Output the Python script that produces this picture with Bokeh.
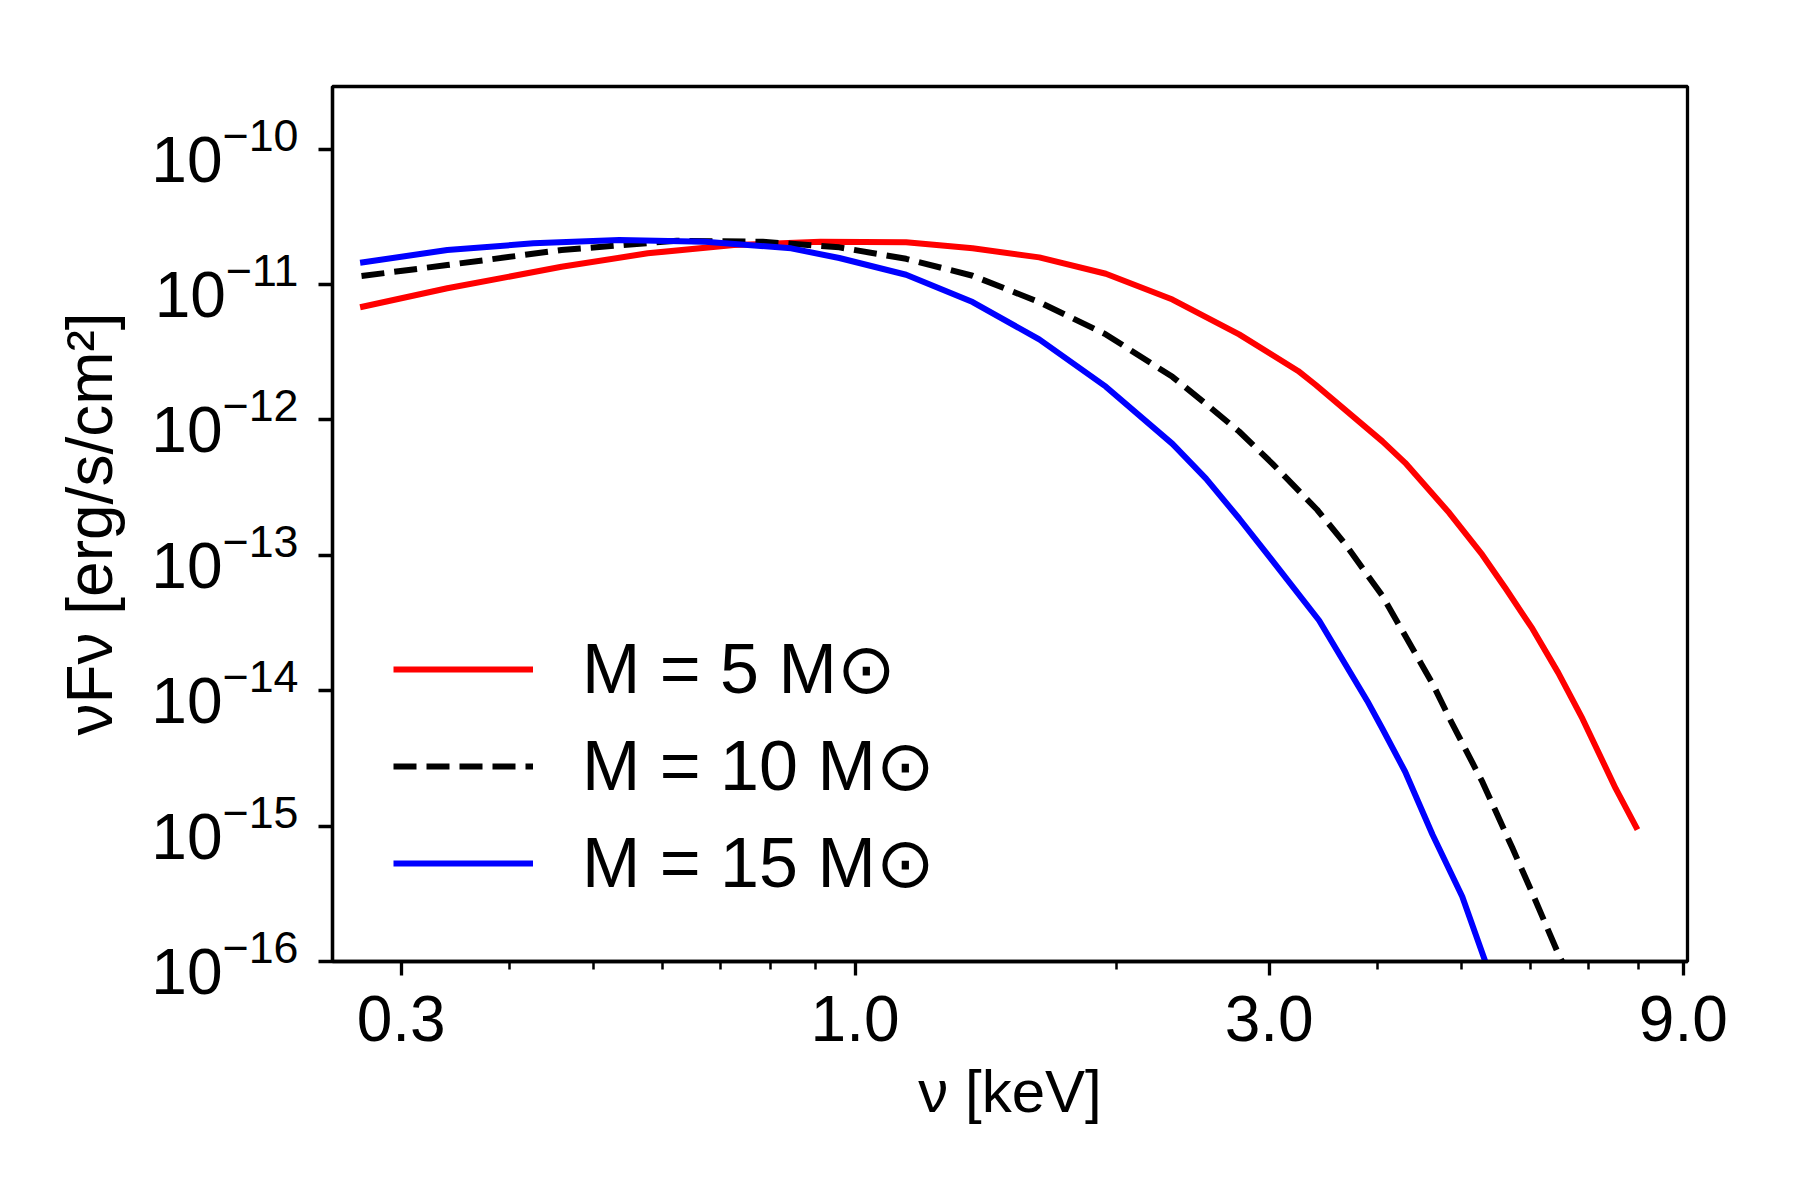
from bokeh.plotting import figure
from bokeh.models import (Range1d, FixedTicker, PrintfTickFormatter, LogTickFormatter,
                          Legend, LegendItem)
from bokeh.embed import file_html
from bokeh.resources import INLINE

# ---- data ----
energy_m5 = [0.269, 0.339, 0.459, 0.577, 0.725, 0.912, 1.145, 1.366, 1.630, 1.945,
             2.321, 2.770, 3.239, 3.395, 4.051, 4.303, 4.836, 5.279, 5.620, 6.031,
             6.457, 6.887, 7.523, 7.969]
flux_m5 = [6.79e-12, 9.38e-12, 1.353e-11, 1.699e-11, 1.956e-11, 2.070e-11, 2.048e-11,
           1.850e-11, 1.587e-11, 1.201e-11, 7.74e-12, 4.28e-12, 2.30e-12, 1.81e-12,
           6.94e-13, 4.82e-13, 2.06e-13, 1.01e-13, 5.66e-14, 2.87e-14,
           1.36e-14, 6.21e-15, 1.89e-15, 9.42e-16]

energy_m10 = [0.270, 0.339, 0.459, 0.623, 0.783, 0.959, 1.145, 1.366, 1.630, 1.945,
              2.321, 2.537, 2.770, 3.027, 3.407, 3.660, 4.051, 4.626, 4.862, 5.283,
              5.716, 6.031, 6.475, 6.597]
flux_m10 = [1.155e-11, 1.393e-11, 1.797e-11, 2.105e-11, 2.070e-11, 1.881e-11, 1.548e-11,
            1.161e-11, 7.42e-12, 4.28e-12, 2.08e-12, 1.31e-12, 8.21e-13, 4.74e-13,
            2.17e-13, 1.24e-13, 5.02e-14, 1.13e-14, 5.90e-15, 2.11e-15,
            6.94e-16, 3.18e-16, 1.10e-16, 8.73e-17]

energy_m15 = [0.269, 0.339, 0.426, 0.535, 0.672, 0.844, 0.959, 1.145, 1.366, 1.630,
              1.945, 2.321, 2.537, 2.770, 3.027, 3.425, 3.890, 4.051, 4.303, 4.626,
              5.006, 5.332]
flux_m15 = [1.448e-11, 1.797e-11, 2.014e-11, 2.130e-11, 2.070e-11, 1.850e-11, 1.569e-11,
            1.181e-11, 7.42e-12, 3.93e-12, 1.76e-12, 6.65e-13, 3.68e-13, 1.87e-13,
            9.09e-14, 3.30e-14, 8.44e-15, 5.24e-15, 2.52e-15, 8.66e-16,
            3.02e-16, 9.67e-17]

labels = ["M = 5 M\u2299", "M = 10 M\u2299", "M = 15 M\u2299"]
x_title = "\u03bd [keV]"
y_title = "\u03bdF\u03bd [erg/s/cm\u00b2]"
x_ticks = [0.3, 1.0, 3.0, 9.0]
x_minor = [0.4, 0.5, 0.6, 0.7, 0.8, 0.9, 2.0, 4.0, 5.0, 6.0, 7.0, 8.0]
y_ticks = [1e-16, 1e-15, 1e-14, 1e-13, 1e-12, 1e-11, 1e-10]

FONT = "Liberation Sans"

p = figure(width=1784, height=1184, x_axis_type="log", y_axis_type="log",
           x_range=Range1d(0.25, 9.1), y_range=Range1d(1e-16, 2.9e-10),
           output_backend="svg", toolbar_location=None,
           min_border_left=332, min_border_right=97,
           min_border_top=86, min_border_bottom=223)
p.background_fill_color = "white"
p.border_fill_color = "white"
p.grid.visible = False
p.outline_line_color = "black"
p.outline_line_width = 3.3

r5 = p.line(energy_m5, flux_m5, line_color="#ff0000", line_width=6, line_join="round")
r10 = p.line(energy_m10, flux_m10, line_color="black", line_width=6, line_dash="23 10",
             line_join="round")
r15 = p.line(energy_m15, flux_m15, line_color="#0000ff", line_width=6, line_join="round")

# axes
xa = p.xaxis[0]
xa.ticker = FixedTicker(ticks=x_ticks, minor_ticks=x_minor)
xa.formatter = PrintfTickFormatter(format="%.1f")
ya = p.yaxis[0]
ya.ticker = FixedTicker(ticks=y_ticks, minor_ticks=[])
ya.formatter = LogTickFormatter()
for ax in (xa, ya):
    ax.axis_line_width = 3.3
    ax.axis_line_color = "black"
    ax.major_tick_line_width = 3.3
    ax.major_tick_out = 14
    ax.major_tick_in = 0
    ax.minor_tick_line_width = 2.5
    ax.minor_tick_out = 8
    ax.minor_tick_in = 0
    ax.major_label_text_font = FONT
    ax.major_label_text_font_size = "64px"
    ax.major_label_text_color = "black"
    ax.axis_label_text_font = FONT
    ax.axis_label_text_font_style = "normal"
    ax.axis_label_text_color = "black"
ya.minor_tick_line_color = None
xa.major_label_standoff = 20
ya.major_label_standoff = 20
xa.axis_label = x_title
ya.axis_label = y_title
xa.axis_label_text_font_size = "60px"
ya.axis_label_text_font_size = "64px"
xa.axis_label_standoff = 14
ya.axis_label_standoff = 22

legend = Legend(items=[LegendItem(label=labels[0], renderers=[r5]),
                       LegendItem(label=labels[1], renderers=[r10]),
                       LegendItem(label=labels[2], renderers=[r15])],
                location=(61, 57))
legend.padding = 0
legend.margin = 0
legend.spacing = 15
legend.glyph_width = 140
legend.glyph_height = 80
legend.label_height = 80
legend.label_standoff = 49
legend.border_line_color = None
legend.background_fill_alpha = 0
legend.label_text_font = FONT
legend.label_text_font_size = "70px"
legend.label_text_color = "black"
p.add_layout(legend)

open("out.html", "w").write(file_html(p, INLINE))
